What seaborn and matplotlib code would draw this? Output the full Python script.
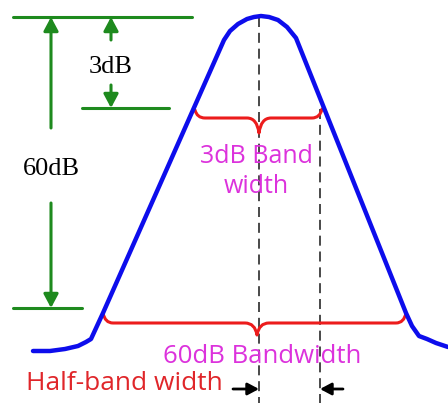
"""
plot.py
Esquema de un filtro pasabanda: ancho de banda a 3 dB y a 60 dB.
Coordenadas del esquema en unidades de dibujo (0-448 x 0-403, eje y invertido).
"""
import numpy as np
import matplotlib
matplotlib.use("Agg")
import matplotlib.pyplot as plt
from matplotlib.path import Path
from matplotlib.patches import PathPatch
import seaborn as sns

# Respuesta del filtro
curve_x = [33, 50, 65, 78, 86, 91, 103, 224, 230, 238, 247, 254, 261, 269, 278, 287, 296,
           406, 412, 419, 427, 436, 448]
curve_y = [351, 351, 349, 346, 342, 339, 313, 40, 31, 24, 19, 17, 16, 17, 20, 27, 38,
           313, 326, 336, 339, 343, 347]

# Niveles (líneas verdes)
level_top = 17
level_3db = 108
level_60db = 308
top_line_x = [13, 192]
line_3db_x = [82, 169]
line_60db_x = [13, 82]

# Cotas
arrow_60_x = 51
arrow_60_gap = [128, 203]
arrow_3_x = 111
arrow_3_gap = [40, 85]

# Anchos de banda
band_3db = [195, 322]
band_3db_ends = [110, 109]
band_60db = [103, 406]
band_60db_ends = [313, 313]
center_x = 259
half_edge_x = 320

BLUE = "#0d0dec"
GREEN = "#1e8a1e"
RED = "#ec1c1c"
MAGENTA = "#dc32dc"
RED_TEXT = "#e0262a"


def brace(ax, x_l, x_r, y_l, y_r, y_h, x_c, y_tip, color):
    """Llave horizontal con punta hacia abajo en x_c."""
    c = 10
    verts = [
        (x_l, y_l), (x_l + 2, y_h), (x_l + c, y_h),
        (x_c - 12, y_h),
        (x_c - 2, y_h), (x_c, y_tip),
        (x_c + 2, y_h), (x_c + 12, y_h),
        (x_r - c, y_h),
        (x_r - 2, y_h), (x_r, y_r),
    ]
    codes = [Path.MOVETO, Path.CURVE3, Path.CURVE3, Path.LINETO,
             Path.CURVE3, Path.CURVE3, Path.CURVE3, Path.CURVE3,
             Path.LINETO, Path.CURVE3, Path.CURVE3]
    ax.add_patch(PathPatch(Path(verts, codes), fill=False, edgecolor=color,
                           lw=2.2, capstyle="round", joinstyle="round"))


def arrow(ax, tail, tip, color, lw, scale):
    ax.annotate("", xy=tip, xytext=tail,
                arrowprops=dict(arrowstyle="-|>,head_length=0.75,head_width=0.4",
                                color=color, lw=lw, mutation_scale=scale,
                                shrinkA=0, shrinkB=0))


sns.set_style("white")
fig = plt.figure(figsize=(4.48, 4.03), dpi=100)
ax = fig.add_axes([0, 0, 1, 1])
ax.set_xlim(0, 448)
ax.set_ylim(403, 0)
ax.axis("off")

# Líneas discontinuas
ax.plot([center_x, center_x], [level_top, 403], color="#2a2a2a", lw=1.2,
        dashes=(6, 3.5), zorder=1)
ax.plot([half_edge_x, half_edge_x], [band_3db_ends[1], 403], color="#2a2a2a", lw=1.2,
        dashes=(6, 3.5), zorder=1)

# Curva de respuesta
sns.lineplot(x=curve_x, y=curve_y, sort=False, estimator=None, color=BLUE,
             lw=3.2, ax=ax, zorder=3)
ax.lines[-1].set_solid_joinstyle("round")
ax.set_xlim(0, 448)
ax.set_ylim(403, 0)

# Niveles
ax.plot(top_line_x, [level_top] * 2, color=GREEN, lw=2.2)
ax.plot(line_3db_x, [level_3db] * 2, color=GREEN, lw=2.2)
ax.plot(line_60db_x, [level_60db] * 2, color=GREEN, lw=2.2)

arrow(ax, (arrow_60_x, arrow_60_gap[0]), (arrow_60_x, level_top), GREEN, 2.2, 11)
arrow(ax, (arrow_60_x, arrow_60_gap[1]), (arrow_60_x, level_60db), GREEN, 2.2, 11)
arrow(ax, (arrow_3_x, arrow_3_gap[0]), (arrow_3_x, level_top), GREEN, 2.2, 11)
arrow(ax, (arrow_3_x, arrow_3_gap[1]), (arrow_3_x, level_3db), GREEN, 2.2, 11)

serif = ["Liberation Serif", "DejaVu Serif"]
ax.text(arrow_3_x, 73, "3dB", fontsize=19, family=serif, color="black",
        ha="center", va="baseline")
ax.text(arrow_60_x, 175, "60dB", fontsize=19, family=serif, color="black",
        ha="center", va="baseline")

# Llaves
brace(ax, band_3db[0], band_3db[1], band_3db_ends[0], band_3db_ends[1], 118,
      center_x, 133, RED)
brace(ax, band_60db[0], band_60db[1], band_60db_ends[0], band_60db_ends[1], 323,
      257, 335, RED)

sans = ["Open Sans", "DejaVu Sans"]
ax.text(256, 163, "3dB Band", fontsize=18, family=sans, color=MAGENTA,
        ha="center", va="baseline")
ax.text(256, 193, "width", fontsize=18, family=sans, color=MAGENTA,
        ha="center", va="baseline")
ax.text(262, 363, "60dB Bandwidth", fontsize=18.5, family=sans, color=MAGENTA,
        ha="center", va="baseline")
ax.text(26, 390, "Half-band width", fontsize=19, family=sans, color=RED_TEXT,
        ha="left", va="baseline")

# Flechas del semiancho de banda
arrow(ax, (233, 389), (center_x, 389), "black", 2.0, 9)
arrow(ax, (343, 389), (half_edge_x, 389), "black", 2.0, 9)

fig.savefig("out.png", dpi=100)
plt.close(fig)
